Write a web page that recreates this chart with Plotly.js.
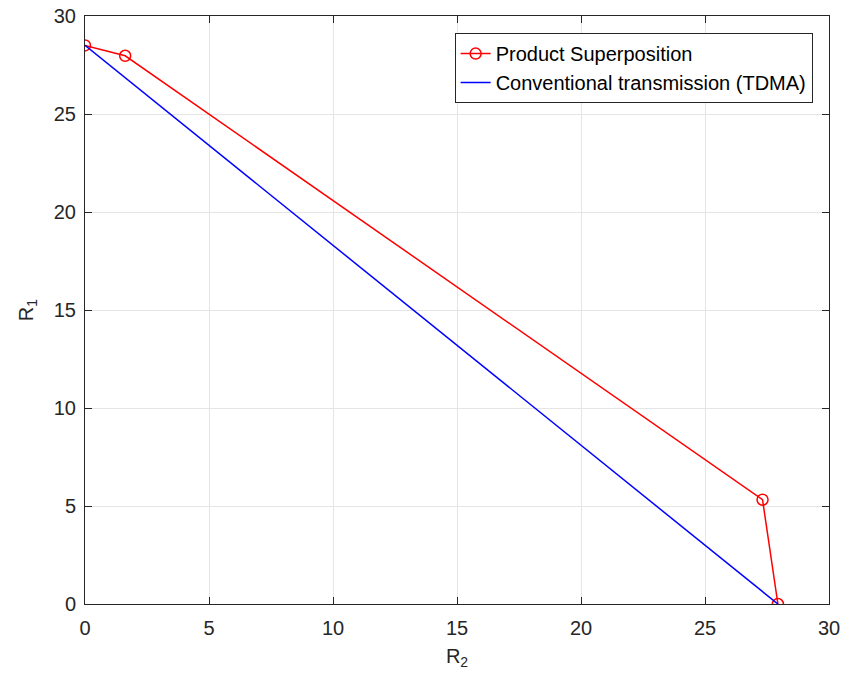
<!DOCTYPE html>
<html><head><meta charset="utf-8">
<script src="https://cdn.plot.ly/plotly-3.0.1.min.js"></script>
<style>body{margin:0;background:#fff}#chart{width:844px;height:681px}</style>
</head><body><div id="chart"></div>
<script>
const psR2 = [0, 1.62, 27.32, 27.94];
const psR1 = [28.5, 27.97, 5.32, 0];
const tdmaR2 = [0, 27.94];
const tdmaR1 = [28.5, 0];
const tickVals = [0, 5, 10, 15, 20, 25, 30];

const traces = [
  {x: psR2, y: psR1, mode: 'lines+markers', name: 'Product Superposition',
   line: {color: '#ff0000', width: 1.5},
   marker: {symbol: 'circle-open', size: 11, color: '#ff0000', line: {width: 1.5}}},
  {x: tdmaR2, y: tdmaR1, mode: 'lines', name: 'Conventional transmission (TDMA)',
   line: {color: '#0000ff', width: 1.5}}
];
const fam = 'Liberation Sans, Arial, sans-serif';
const axisCommon = {
  range: [0, 30], tickvals: tickVals, showgrid: true, gridcolor: '#e5e5e5',
  showline: true, mirror: 'ticks', linecolor: '#262626', linewidth: 1,
  ticks: 'inside', ticklen: 7, tickcolor: '#262626', zeroline: false,
  tickfont: {family: fam, size: 20, color: '#262626'}
};
const layout = {
  width: 844, height: 681,
  margin: {l: 85, r: 15, t: 16, b: 77},
  paper_bgcolor: '#fff', plot_bgcolor: '#fff',
  font: {family: fam, size: 20, color: '#262626'},
  xaxis: Object.assign({}, axisCommon, {ticklabelstandoff: 6,
    title: {text: 'R<sub>2</sub>', standoff: 10, font: {size: 20, color: '#262626'}}}),
  yaxis: Object.assign({}, axisCommon, {ticklabelstandoff: 4,
    title: {text: 'R<sub>1</sub>', standoff: 14, font: {size: 20, color: '#262626'}}}),
  showlegend: true,
  legend: {x: 0.978, y: 0.971, xanchor: 'right', yanchor: 'top', bgcolor: '#fff',
    bordercolor: '#262626', borderwidth: 1, font: {family: fam, size: 20, color: '#000'},
    tracegroupgap: 0, itemwidth: 30}
};
Plotly.newPlot('chart', traces, layout, {displayModeBar: false});
</script></body></html>
